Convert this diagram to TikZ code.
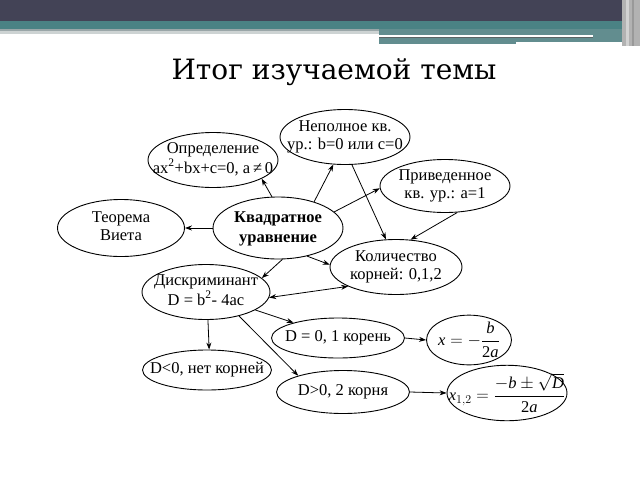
\documentclass[tikz,border=0pt]{standalone}
\usepackage{fontspec}
\usepackage{amsmath}
\setmainfont{Liberation Serif}
\newfontfamily\titlefont{DejaVu Serif}
\usetikzlibrary{shapes.geometric,arrows.meta}
\definecolor{hdark}{HTML}{434356}
\definecolor{hteal}{HTML}{4A8284}
\definecolor{hgrey}{HTML}{9AA6A8}
\newcommand{\zw}[1]{\makebox[0pt][c]{\begin{tabular}{@{}c@{}}#1\end{tabular}}}
\newcommand{\iv}[1]{\text{\itshape #1}}
\tikzset{
  el/.style={draw, ellipse, line width=0.9pt, inner sep=0pt, align=center,
    font=\fontsize{16.5}{18}\selectfont},
  arr/.style={line width=0.8pt, -{Stealth[length=7pt,width=5pt]}},
  darr/.style={line width=0.8pt, {Stealth[length=7pt,width=5pt]}-{Stealth[length=7pt,width=5pt]}}
}
\begin{document}
\begin{tikzpicture}[x=1pt,y=-1pt]
\useasboundingbox (0,0) rectangle (640,480);
\fill[white] (0,0) rectangle (640,480);
% header
\fill[hdark] (0,0) rectangle (640,21);
\fill[hteal] (0,21) rectangle (640,29);
\fill[hgrey] (0,29) rectangle (640,31);
\fill[hgrey!50] (0,31) rectangle (640,34);
\fill[hteal!70!hgrey] (379,29) rectangle (622,44);
\fill[white] (379,34.5) rectangle (593,36.5);
\fill[hgrey!60!black] (379,36.5) rectangle (593,37.5);
\fill[white] (516,41.5) rectangle (628,43.5);
\fill[gray!60] (622,0) rectangle (640,46);
\fill[gray!35] (626,0) rectangle (629,46);
\fill[gray!80] (632,0) rectangle (634,46);
% title
\node[font=\titlefont\fontsize{28}{30}\selectfont] (title) at (334,72) {Итог изучаемой темы};
% nodes
\node[el, minimum width=130, minimum height=55] (def) at (213,160) {\zw{Определение\\ax\textsuperscript{2}+bx+c=0, a\,≠\,0}};
\node[el, minimum width=130, minimum height=55] (nep) at (345,137) {\zw{Неполное кв.\\ур.: b=0 или c=0}};
\node[el, minimum width=130, minimum height=53] (priv) at (445,186) {\zw{Приведенное\\кв. ур.: a=1}};
\node[el, minimum width=127, minimum height=57] (viet) at (121,228) {\zw{Теорема\\Виета}};
\node[el, minimum width=130, minimum height=62, font=\bfseries\fontsize{16.5}{20}\selectfont] (kv) at (278,228) {\zw{Квадратное\\уравнение}};
\node[el, minimum width=132, minimum height=55] (kol) at (396,267) {\zw{Количество\\корней: 0,1,2}};
\node[el, minimum width=128, minimum height=55] (disc) at (206,292) {\zw{Дискриминант\\D = b\textsuperscript{2}- 4ac}};
\node[el, minimum width=133, minimum height=40] (d0) at (338,338) {\zw{D = 0, 1 корень}};
\node[el, minimum width=85, minimum height=44] (x0) at (469,340) {\zw{$\iv{x}=-\dfrac{\iv{b}}{\text{2\itshape a}}$}};
\node[el, minimum width=129, minimum height=40] (dneg) at (207,370) {\zw{D<0, нет корней}};
\node[el, minimum width=133, minimum height=43] (dpos) at (343,392) {\zw{D>0, 2 корня}};
\node[el, minimum width=120, minimum height=53] (x12) at (507,393) {\zw{$\iv{x}_{1,2}=\dfrac{-\iv{b}\pm\sqrt{\iv{D}}}{\text{2\itshape a}}$}};
% connectors
\draw[arr] (kv.101) -- (def.-21);
\draw[arr] (kv.36) -- (nep.-113);
\draw[arr] (kv.16) -- (priv.182);
\draw[arr] (kv.180) -- (viet.0);
\draw[arr] (kv.-82) -- (disc.14);
\draw[arr] (kv.-44) -- (kol.178);
\draw[arr] (nep.-76) -- (kol.110);
\draw[arr] (priv.-65) -- (kol.62);
\draw[darr] (disc.-5) -- (kol.202);
\draw[arr] (disc.-20) -- (d0.161);
\draw[arr] (disc.-86) -- (dneg.84);
\draw[arr] (disc.-36) -- (dpos.160);
\draw[arr] (d0.0) -- (x0.180);
\draw[arr] (dpos.0) -- (x12.180);
\end{tikzpicture}
\end{document}
